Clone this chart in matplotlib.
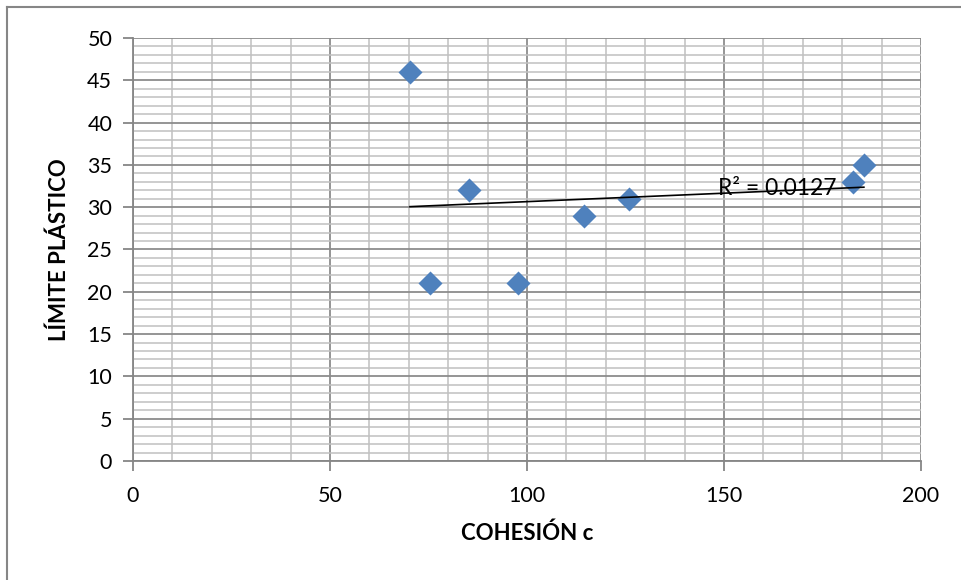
import numpy as np
import matplotlib.pyplot as plt
from matplotlib.lines import Line2D
from matplotlib.ticker import MultipleLocator

# data
cohesion = [70.3, 75.4, 85.3, 97.7, 114.5, 125.9, 182.7, 185.5]
limite_plastico = [46, 21, 32, 21, 29, 31, 33, 35]
x_ticks = [0, 50, 100, 150, 200]
y_ticks = [0, 5, 10, 15, 20, 25, 30, 35, 40, 45, 50]

plt.rcParams['font.family'] = ['Lato', 'DejaVu Sans']

fig = plt.figure(figsize=(9.62, 5.8), dpi=100)
ax = fig.add_axes([133 / 962, 1 - 461 / 580, (921 - 133) / 962, (461 - 38) / 580])

# outer chart border (left and top visible)
fig.add_artist(Line2D([7 / 962, 7 / 962], [0, 1 - 7 / 580], transform=fig.transFigure,
                      color='#868686', lw=1.5))
fig.add_artist(Line2D([7 / 962, 1], [1 - 7 / 580, 1 - 7 / 580], transform=fig.transFigure,
                      color='#868686', lw=1.5))

x = np.array(cohesion)
y = np.array(limite_plastico)

ax.scatter(x, y, marker='D', s=150, color='#4f81bd', zorder=3, linewidths=0)

# linear trendline
slope, intercept = np.polyfit(x, y, 1)
xs = np.array([x.min(), x.max()])
ax.plot(xs, slope * xs + intercept, color='black', lw=1.2, zorder=4)
r2 = np.corrcoef(x, y)[0, 1] ** 2
ax.text(148.5, 32.2, 'R² = {:.4f}'.format(r2), fontsize=16.5, va='center', ha='left', zorder=5)

ax.set_xlim(0, 200)
ax.set_ylim(0, 50)
ax.set_xticks(x_ticks)
ax.set_yticks(y_ticks)
ax.xaxis.set_minor_locator(MultipleLocator(10))
ax.yaxis.set_minor_locator(MultipleLocator(1))

ax.grid(which='major', color='#8c8c8c', lw=1.3)
ax.grid(which='minor', color='#c0c0c0', lw=1.1)
ax.set_axisbelow(True)

for side in ['top', 'right']:
    ax.spines[side].set_visible(False)
for side in ['left', 'bottom']:
    ax.spines[side].set_color('#868686')
    ax.spines[side].set_linewidth(1.3)

ax.tick_params(which='major', direction='out', length=7, width=1.3, color='#868686',
               labelsize=15.5, pad=8)
ax.tick_params(axis='x', which='major', pad=11)
ax.tick_params(which='minor', length=0)

ax.set_xlabel('COHESIÓN c', fontsize=16, fontweight='bold', labelpad=12)
ax.set_ylabel('LÍMITE PLÁSTICO', fontsize=16, fontweight='bold', labelpad=12)

fig.savefig('out.png', dpi=100)
